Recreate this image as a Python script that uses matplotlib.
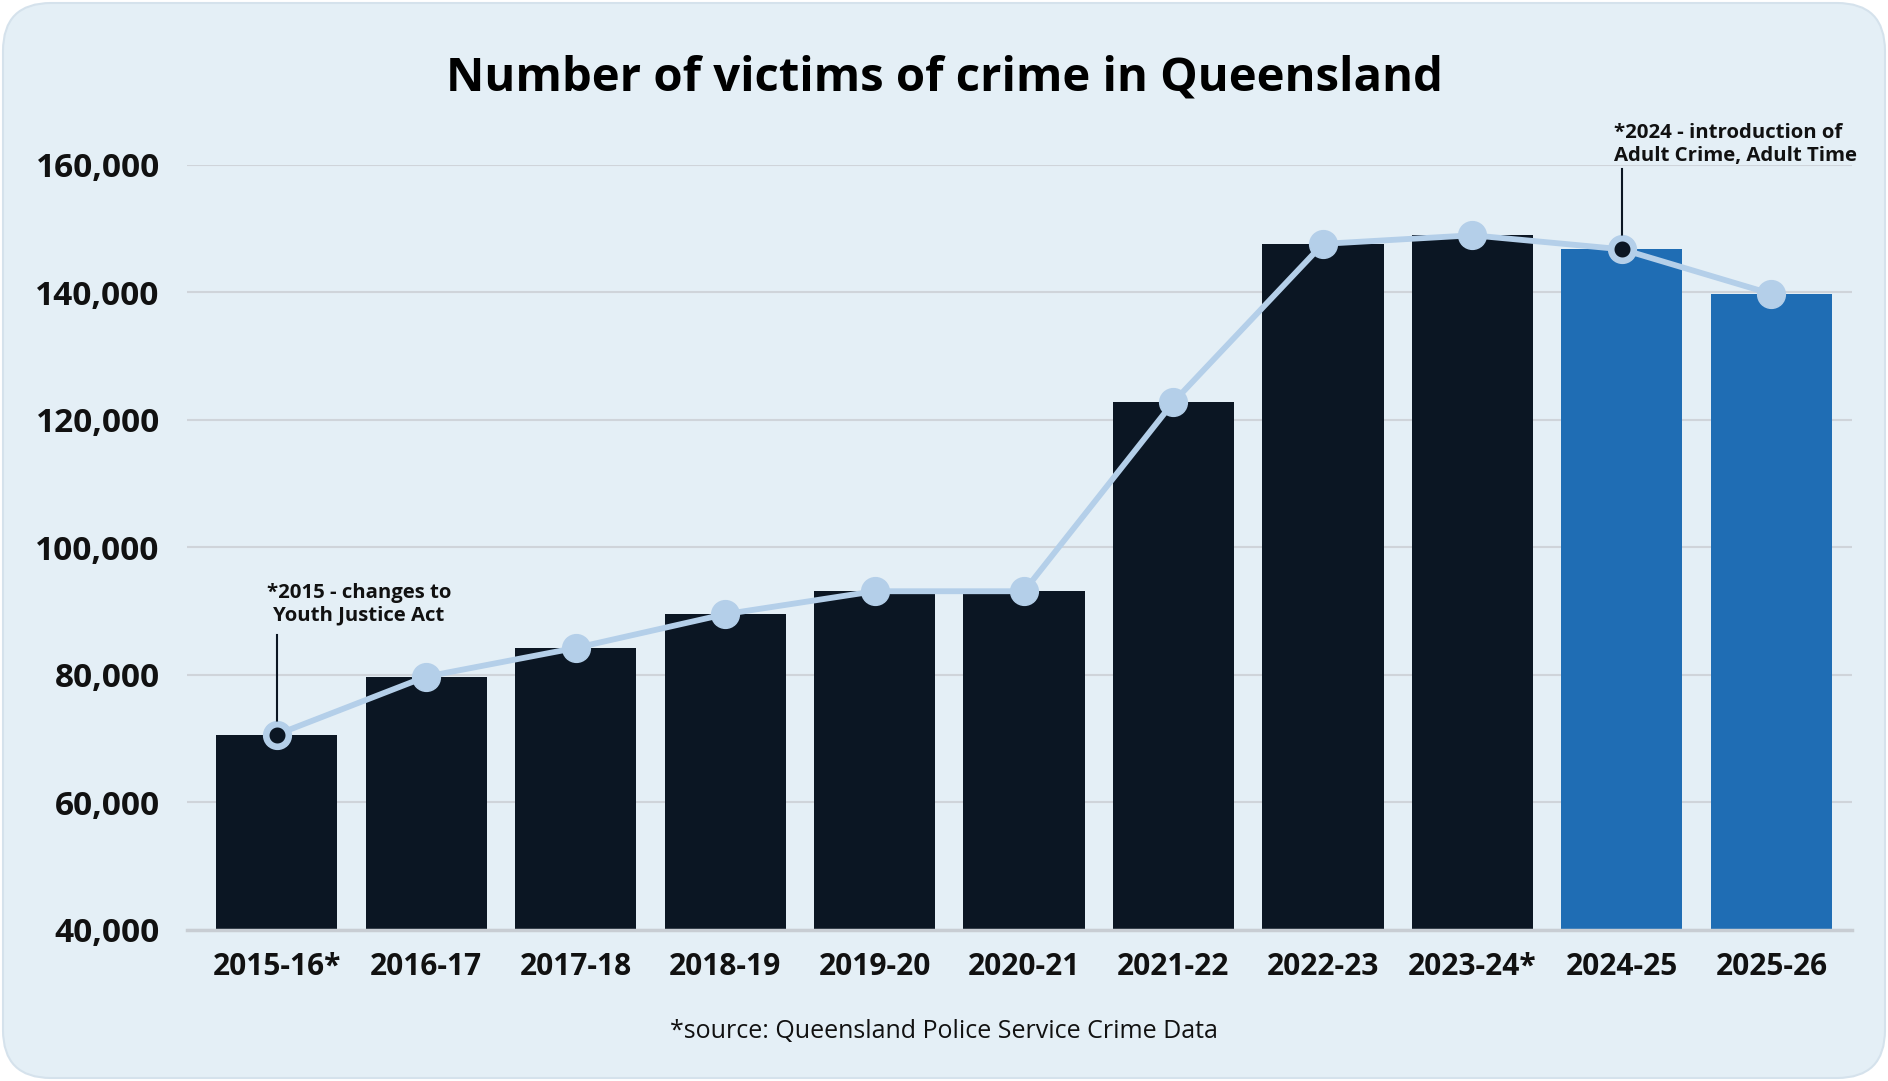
import matplotlib
matplotlib.use("Agg")
import matplotlib.pyplot as plt
from matplotlib.patches import FancyBboxPatch

plt.rcParams['font.family'] = ['Open Sans', 'DejaVu Sans']

# data
years = ["2015-16*", "2016-17", "2017-18", "2018-19", "2019-20", "2020-21",
         "2021-22", "2022-23", "2023-24*", "2024-25", "2025-26"]
victims = [70600, 79700, 84200, 89500, 93100, 93100,
           122800, 147600, 148950, 146750, 139750]
yticks = [40000, 60000, 80000, 100000, 120000, 140000, 160000]

# colours
panel_col = "#e4eff6"
dark_col = "#0b1623"
blue_col = "#1f6db4"
line_col = "#b4cfe9"
grid_col = "#cfd4da"

fig = plt.figure(figsize=(18.88, 10.81), dpi=100)

# rounded background panel
bg = fig.add_axes([0, 0, 1, 1], zorder=-10)
bg.set_xlim(0, 1888)
bg.set_ylim(0, 1081)
bg.axis("off")
bg.add_patch(FancyBboxPatch((3, 3), 1882, 1075, boxstyle="round,pad=0,rounding_size=48",
                            fc=panel_col, ec="#d5e2ec", lw=1.5))

ax = fig.add_axes([0.099, 0.140, 0.882, 0.7075])
ax.set_facecolor("none")

x = list(range(len(years)))
colors = [dark_col] * 9 + [blue_col] * 2
ax.bar(x, victims, width=0.81, color=colors, zorder=2)

# trend line with markers
ax.plot(x, victims, color=line_col, lw=4.2, zorder=3, solid_capstyle="round")
ax.plot(x, victims, "o", ms=20, color=line_col, zorder=4, clip_on=False)

# highlighted points with notes
for i in (0, 9):
    ax.plot(x[i], victims[i], "o", ms=15.8, mfc=dark_col, mec=line_col, mew=4.3,
            zorder=5, clip_on=False)

ax.plot([0, 0], [victims[0] + 1700, 86300], color=dark_col, lw=1.5, zorder=4)
ax.text(0.55, 87700, "*2015 - changes to\nYouth Justice Act", ha="center", va="bottom",
        fontsize=14.7, fontweight="bold", color="#111111", linespacing=1.2)

ax.plot([9, 9], [victims[9] + 1700, 159300], color=dark_col, lw=1.5, zorder=4,
        clip_on=False)
ax.text(8.95, 159800, "*2024 - introduction of\nAdult Crime, Adult Time", ha="left",
        va="bottom", fontsize=14.7, fontweight="bold", color="#111111",
        linespacing=1.2)

ax.set_xlim(-0.6, 10.54)
ax.set_ylim(40000, 160000)
ax.set_yticks(yticks)
ax.set_yticklabels([f"{v:,}" for v in yticks])
ax.set_xticks(x)
ax.set_xticklabels(years)
ax.tick_params(axis="y", length=0, pad=19.5, labelsize=24, labelcolor="#111111")
ax.tick_params(axis="x", length=0, pad=16, labelsize=21.5, labelcolor="#111111")
for lab in ax.get_xticklabels() + ax.get_yticklabels():
    lab.set_fontweight("bold")

ax.grid(axis="y", color=grid_col, lw=1.5, zorder=0)
for s in ("top", "right", "left"):
    ax.spines[s].set_visible(False)
ax.spines["bottom"].set_color("#c8cdd3")
ax.spines["bottom"].set_linewidth(2.5)
ax.spines["bottom"].set_zorder(3)

fig.text(0.5, 0.928, "Number of victims of crime in Queensland", ha="center", va="center",
         fontsize=34, fontweight="bold", color="#000000")
fig.text(0.5, 0.046, "*source: Queensland Police Service Crime Data", ha="center",
         va="center", fontsize=18, color="#111111")

fig.savefig("out.png", dpi=100)
